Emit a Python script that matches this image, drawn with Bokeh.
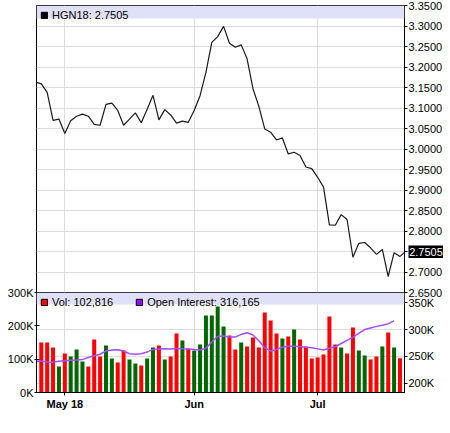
import math
import pandas as pd
from bokeh.plotting import figure
from bokeh.layouts import column, row
from bokeh.models import (Range1d, LinearAxis, FixedTicker, NumeralTickFormatter,
                          CustomJSTickFormatter, Grid, BoxAnnotation, Label, Legend,
                          LegendItem, ColumnDataSource, Spacer)
from bokeh.embed import file_html
from bokeh.resources import INLINE

# ---------------- data ----------------
symbol = "HGN18"
holidays = ["2018-05-28", "2018-07-04"]
dates = [d for d in pd.bdate_range("2018-04-24", "2018-07-24")
         if d.strftime("%Y-%m-%d") not in holidays]

price = [3.1635, 3.159, 3.138, 3.070, 3.073, 3.038, 3.069, 3.080, 3.085, 3.080,
         3.060, 3.058, 3.109, 3.112, 3.094, 3.058, 3.073, 3.088, 3.064, 3.097,
         3.131, 3.071, 3.096, 3.083, 3.063, 3.068, 3.065, 3.094, 3.130, 3.187,
         3.260, 3.274, 3.299, 3.258, 3.248, 3.254, 3.220, 3.147, 3.104, 3.049,
         3.041, 3.022, 3.027, 2.988, 2.992, 2.984, 2.956, 2.952, 2.931, 2.907,
         2.815, 2.814, 2.840, 2.828, 2.736, 2.770, 2.772, 2.759, 2.743, 2.755,
         2.689, 2.747, 2.738, 2.7505]

volume = [150000, 150000, 135000, 78000, 117000, 108000, 129000, 93000, 78000, 159000,
          108000, 141000, 102000, 90000, 126000, 99000, 87000, 81000, 102000, 135000,
          141000, 99000, 108000, 177000, 156000, 132000, 126000, 144000, 231000, 231000,
          258000, 198000, 171000, 129000, 150000, 138000, 165000, 135000, 240000, 216000,
          177000, 162000, 168000, 189000, 159000, 138000, 102000, 105000, 114000, 228000,
          144000, 135000, 117000, 195000, 126000, 111000, 99000, 108000, 138000, 180000,
          135000, 102816]

open_interest = [241000, 241200, 239600, 239000, 241000, 242000, 243000, 243200, 244000, 248000,
                 251000, 254000, 260000, 262000, 262400, 260000, 255000, 254000, 255000, 258000,
                 263000, 264000, 264300, 264000, 264500, 264200, 264000, 263000, 262000, 265000,
                 277000, 287000, 288000, 286000, 286000, 291000, 294000, 290000, 279000, 266000,
                 260000, 263000, 267000, 269000, 269000, 268000, 267000, 266000, 264000, 262000,
                 265000, 268000, 274000, 280000, 286000, 293000, 300000, 303000, 306000, 308000,
                 311000, 316165]

price_ticks = [2.65, 2.70, 2.75, 2.80, 2.85, 2.90, 2.95, 3.00,
               3.05, 3.10, 3.15, 3.20, 3.25, 3.30, 3.35]
vol_ticks = [0, 100000, 200000, 300000]
oi_ticks = [200000, 250000, 300000, 350000]

# ---------------- styles ----------------
FONT = "Liberation Sans"
GRID = "#dcdcdc"
BAND = "#e0e0f8"
UP = "#006600"
DOWN = "#ff0000"
OI_COLOR = "#a64dff"
NAN = [math.nan]

idx = list(range(len(dates)))
price_x = idx
vol_x = idx[1:1 + len(volume)]
oi_x = idx[:len(open_interest)]
vol_colors = [UP if price[i] >= price[i - 1] else DOWN for i in vol_x]

month_idx = [i for i in idx[1:] if dates[i].month != dates[i - 1].month]
month_labels = {}
for k, i in enumerate(month_idx):
    month_labels[i] = dates[i].strftime("%b %y") if k == 0 else dates[i].strftime("%b")

last_price_text = f"{price[-1]:.4f}"
nearest_tick = min(price_ticks, key=lambda t: abs(t - price[-1]))

xr = Range1d(0.184, 62.77)
k_fmt = CustomJSTickFormatter(code="return (tick/1000).toFixed(0) + 'K';")


def style_legend(leg):
    leg.location = "top_left"
    leg.orientation = "horizontal"
    leg.background_fill_alpha = 0
    leg.border_line_alpha = 0
    leg.padding = 0
    leg.margin = 4
    leg.spacing = 22
    leg.glyph_width = 8
    leg.glyph_height = 8
    leg.label_standoff = 4
    leg.label_height = 8
    leg.label_text_font = FONT
    leg.label_text_font_size = "11px"
    leg.label_text_color = "black"


def style_axis(ax):
    ax.axis_line_color = "black"
    ax.major_tick_line_color = "black"
    ax.minor_tick_line_color = None
    ax.major_label_text_font = FONT
    ax.major_label_text_font_size = "11px"
    ax.major_label_text_color = "black"


# ---------------- price panel ----------------
p1 = figure(frame_width=368, frame_height=287, x_range=xr, y_range=Range1d(2.65, 3.35),
            x_axis_location=None, y_axis_location="right",
            toolbar_location=None, output_backend="svg",
            min_border_left=36, min_border_right=38, min_border_top=5, min_border_bottom=7,
            outline_line_color="black")
p1.grid.visible = False
p1.add_layout(Grid(dimension=0, ticker=FixedTicker(ticks=month_idx), grid_line_color=GRID))
p1.add_layout(Grid(dimension=1, ticker=FixedTicker(ticks=price_ticks), grid_line_color=GRID))

p1.add_layout(BoxAnnotation(bottom=3.35 - 13 * 0.70 / 287, top=3.35, fill_color=BAND,
                            fill_alpha=1, line_color=None))
p1.line(price_x, price, line_color="#1a1a1a", line_width=1.2)

ya = p1.yaxis[0]
ya.ticker = FixedTicker(ticks=price_ticks)
ya.formatter = NumeralTickFormatter(format="0.0000")
ya.major_label_overrides = {nearest_tick: ""}
ya.major_tick_out = 3
ya.major_tick_in = 0
ya.major_label_standoff = 1
style_axis(ya)

sw1 = p1.quad(left=NAN, right=NAN, bottom=NAN, top=NAN, fill_color="black", line_color="black")
leg1 = Legend(items=[LegendItem(label=f"{symbol}: {last_price_text}", renderers=[sw1])])
style_legend(leg1)
p1.add_layout(leg1)

# ---------------- last price marker on the price axis ----------------
p0 = figure(width=35, height=13, x_range=Range1d(0, 1), y_range=Range1d(0, 1),
            x_axis_location=None, y_axis_location=None, toolbar_location=None,
            output_backend="svg", min_border_left=0, min_border_right=0,
            min_border_top=0, min_border_bottom=0, background_fill_color="black",
            border_fill_color="black", outline_line_color=None)
p0.grid.visible = False
p0.add_layout(Label(x=0.5, y=0.5, text=last_price_text, text_font=FONT,
                    text_font_size="11px", text_color="white",
                    text_align="center", text_baseline="middle"))
marker_row = row(Spacer(width=408, height=13), p0, margin=(-54, 0, 0, 0))

# ---------------- volume panel ----------------
p2 = figure(frame_width=368, frame_height=100, x_range=xr, y_range=Range1d(0, 300000),
            toolbar_location=None, output_backend="svg",
            min_border_left=36, min_border_right=38, min_border_top=7, min_border_bottom=20,
            outline_line_color="black", border_fill_color=None, margin=(27, 0, 0, 0))
p2.extra_y_ranges = {"oi": Range1d(182600, 369200)}
p2.grid.visible = False
p2.add_layout(Grid(dimension=0, ticker=FixedTicker(ticks=month_idx), grid_line_color=GRID))
p2.add_layout(Grid(dimension=1, ticker=FixedTicker(ticks=oi_ticks), y_range_name="oi",
                   grid_line_color=GRID))

p2.add_layout(BoxAnnotation(bottom=300000 * (1 - 12 / 100), top=300000, fill_color=BAND,
                            fill_alpha=1, line_color=None))

src = ColumnDataSource(dict(x=vol_x, v=volume, c=vol_colors))
p2.vbar(x="x", top="v", bottom=0, width=0.68, fill_color="c", line_color=None, source=src)
p2.line(oi_x, open_interest, y_range_name="oi", line_color=OI_COLOR, line_width=1.5)

la = p2.yaxis[0]
la.ticker = FixedTicker(ticks=vol_ticks)
la.formatter = k_fmt
la.major_tick_in = 3
la.major_tick_out = 2
la.major_label_standoff = 1
style_axis(la)

ra = LinearAxis(y_range_name="oi", ticker=FixedTicker(ticks=oi_ticks), formatter=k_fmt)
ra.major_tick_in = 0
ra.major_tick_out = 3
ra.major_label_standoff = 1
style_axis(ra)
p2.add_layout(ra, "right")

xa = p2.xaxis[0]
xa.ticker = FixedTicker(ticks=month_idx)
xa.major_label_overrides = month_labels
xa.major_tick_in = 0
xa.major_tick_out = 3
xa.major_label_standoff = 2
style_axis(xa)
xa.major_label_text_font_style = "bold"

sw_v = p2.quad(left=NAN, right=NAN, bottom=NAN, top=NAN, fill_color=DOWN, line_color="black")
sw_o = p2.quad(left=NAN, right=NAN, bottom=NAN, top=NAN, fill_color="#9900ff", line_color="black")
leg2 = Legend(items=[LegendItem(label=f"Vol: {volume[-1]:,}", renderers=[sw_v]),
                     LegendItem(label=f"Open Interest: {open_interest[-1]:,}", renderers=[sw_o])])
style_legend(leg2)
p2.add_layout(leg2)

layout = column(p1, marker_row, p2)
open("out.html", "w").write(file_html(layout, INLINE))
